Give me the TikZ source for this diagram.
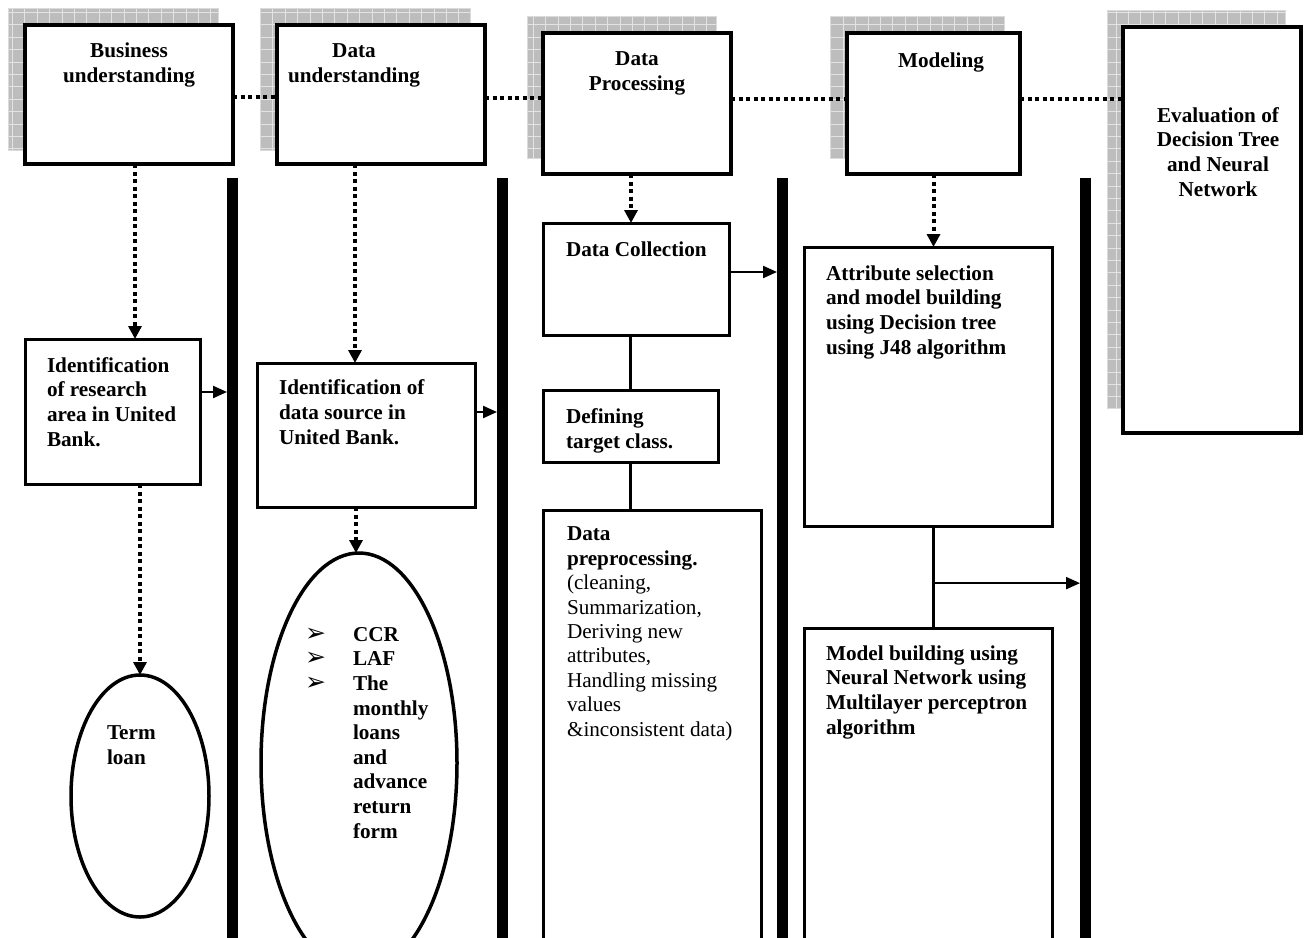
\documentclass[tikz,border=0pt]{standalone}
\usepackage{fontspec}
\setmainfont{Liberation Serif}
\newfontfamily\symfont{DejaVu Sans}
\usetikzlibrary{arrows.meta,shapes.geometric}

% hatched grey panel drawn behind each phase box
\newcommand\shadowpanel[4]{%
  \fill[black!26] (#1,#2) rectangle (#3,#4);
  \draw[shadowgrid,step=12.4pt] (#1,#4) grid (#3,#2);
  \draw[black!14,line width=1pt] (#1,#2) rectangle (#3,#4);
}

\begin{document}
\begin{tikzpicture}[x=1pt,y=-1pt,
  every node/.style={inner sep=0pt, outer sep=0pt},
  shadowgrid/.style={draw=black!11, line width=0.7pt},
  phase/.style={draw, fill=white, line width=4pt, rectangle},
  stage/.style={draw, fill=white, line width=3pt, rectangle},
  result/.style={draw, ellipse, line width=3.5pt},
  bar/.style={fill=black, rectangle, minimum width=11pt, minimum height=764pt},
  flow/.style={line width=4pt, dash pattern=on 4pt off 3.5pt},
  dotarrow/.style={flow, -{Triangle[length=13pt,width=13pt]}},
  arr/.style={line width=2.2pt, -{Triangle[length=14pt,width=12pt]}},
  link/.style={line width=3pt},
  % multi-line labels are placed by the baseline of their last line
  lbl/.style={font=\fontsize{21.2}{24.6}\selectfont\bfseries, align=left, anchor=base west},
  clbl/.style={font=\fontsize{21.2}{24.6}\selectfont\bfseries, align=center, anchor=base},
  bullet/.style={font=\symfont\fontsize{25}{25}\selectfont, anchor=base west},
]
\useasboundingbox (0,0) rectangle (1305,937);
\fill[white] (0,0) rectangle (1305,937);

% shadow panels
\shadowpanel{8}{8}{218}{150}
\shadowpanel{260}{8}{470}{150}
\shadowpanel{527}{16}{716}{158}
\shadowpanel{830}{16}{1004}{158}
\shadowpanel{1107}{10}{1285}{408}

% phase boxes
\node[phase, minimum width=208pt, minimum height=139pt] (b1) at (129,94.5) {};
\node[phase, minimum width=208pt, minimum height=139pt] (b2) at (381,94.5) {};
\node[phase, minimum width=188pt, minimum height=141pt] (b3) at (637,103.5) {};
\node[phase, minimum width=173pt, minimum height=141pt] (b4) at (933.5,103.5) {};
\node[phase, minimum width=178pt, minimum height=406pt] (b5) at (1212,230) {};

% separating bars
\node[bar] (bar1) at (232.5,560) {};
\node[bar] (bar2) at (502.5,560) {};
\node[bar] (bar3) at (782.5,560) {};
\node[bar] (bar4) at (1085.5,560) {};

% stage boxes
\node[stage, minimum width=175pt, minimum height=145pt] (id1) at (112.5,411.5) {};
\node[stage, minimum width=218pt, minimum height=144pt] (id2) at (366,435) {};
\node[stage, minimum width=186pt, minimum height=112pt] (dc) at (636,279) {};
\node[stage, minimum width=175pt, minimum height=72pt] (df) at (630.5,426) {};
\node[stage, minimum width=218pt, minimum height=430pt] (pp) at (652,725) {};
\node[stage, minimum width=248pt, minimum height=279pt] (at) at (928,386.5) {};
\node[stage, minimum width=248pt, minimum height=312pt] (md) at (928,784) {};

% outcome ellipses
\node[result, minimum width=138pt, minimum height=242pt] (e1) at (140,796) {};
\node[result, minimum width=196pt, minimum height=420pt] (e2) at (359,763) {};

% dotted chain between phases
\draw[flow] ([yshift=-2.5pt]b1.east) -- ([yshift=-2.5pt]b1.east -| b2.west);
\draw[flow] ([yshift=-3.5pt]b2.east) -- ([yshift=-3.5pt]b2.east -| b3.west);
\draw[flow] ([yshift=4.5pt]b3.east) -- ([yshift=4.5pt]b3.east -| b4.west);
\draw[flow] ([yshift=4.5pt]b4.east) -- ([yshift=4.5pt]b4.east -| b5.west);

% dotted arrows down each column
\draw[dotarrow] ([xshift=6pt]b1.south) -- ([xshift=6pt]b1.south |- id1.north);
\draw[dotarrow] (id1.south -| e1.north) -- (e1.north);
\draw[dotarrow] ([xshift=-26pt]b2.south) -- ([xshift=-26pt]b2.south |- id2.north);
\draw[dotarrow] ([xshift=-3pt]id2.south -| e2.north) -- ([xshift=-3pt]e2.north);
\draw[dotarrow] ([xshift=-6pt]b3.south) -- ([xshift=-6pt]b3.south |- dc.north);
\draw[dotarrow] (b4.south) -- (b4.south |- at.north);

% solid links and arrows into the bars
\draw[arr] ([yshift=19.5pt]id1.east) -- ([yshift=19.5pt]id1.east -| bar1.west);
\draw[arr] ([yshift=23pt]id2.east) -- ([yshift=23pt]id2.east -| bar2.west);
\draw[arr] ([yshift=7pt]dc.east) -- ([yshift=7pt]dc.east -| bar3.west);
\draw[link] (dc.south -| df.north) -- (df.north);
\draw[link] (df.south) -- (df.south |- pp.north);
\draw[link] (b4.south |- at.south) -- (b4.south |- md.north)
  coordinate[pos=0.56] (split);
\draw[arr] (split) -- (split -| bar4.west);

% labels
\node[clbl] (t1) at (129,82) {Business\\understanding};
\node[clbl] (t2) at (354,82) {Data\\understanding};
\node[clbl] (t3) at (637,90) {Data\\Processing};
\node[clbl] (t4) at (941,67) {Modeling};
\node[clbl] (t5) at (1218,196) {Evaluation of\\Decision Tree\\and Neural\\Network};
\node[lbl] (t6) at (47,446) {Identification\\of research\\area in United\\Bank.};
\node[lbl] (t7) at (279,444) {Identification of\\data source in\\United Bank.};
\node[lbl] (t8) at (107,764) {Term\\loan};
\node[bullet] (k1) at (305,641) {➢};
\node[bullet] (k2) at (305,665.5) {➢};
\node[bullet] (k3) at (305,690) {➢};
\node[lbl] (t9) at (353,838) {CCR\\LAF\\The\\monthly\\loans\\and\\advance\\return\\form};
\node[lbl] (t10) at (566,256) {Data Collection};
\node[lbl] (t11) at (566,448) {Defining\\target class.};
\node[lbl, font=\fontsize{21.2}{24.4}\selectfont] (t12) at (567,736)
  {\textbf{Data}\\\textbf{preprocessing.}\\(cleaning,\\Summarization,\\Deriving new\\attributes,\\Handling missing\\values\\\&inconsistent data)};
\node[lbl] (t13) at (826,354) {Attribute selection\\and model building\\using Decision tree\\using J48 algorithm};
\node[lbl] (t14) at (826,734) {Model building using\\Neural Network using\\Multilayer perceptron\\algorithm};
\end{tikzpicture}
\end{document}
